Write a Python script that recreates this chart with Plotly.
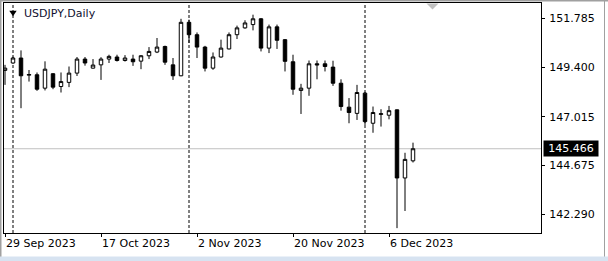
import plotly.graph_objects as go
from datetime import datetime

# ---------------- data ----------------
dates = [
    "2023-09-29",
    "2023-10-02", "2023-10-03", "2023-10-04", "2023-10-05", "2023-10-06",
    "2023-10-09", "2023-10-10", "2023-10-11", "2023-10-12", "2023-10-13",
    "2023-10-16", "2023-10-17", "2023-10-18", "2023-10-19", "2023-10-20",
    "2023-10-23", "2023-10-24", "2023-10-25", "2023-10-26", "2023-10-27",
    "2023-10-30", "2023-10-31",
    "2023-11-01", "2023-11-02", "2023-11-03",
    "2023-11-06", "2023-11-07", "2023-11-08", "2023-11-09", "2023-11-10",
    "2023-11-13", "2023-11-14", "2023-11-15", "2023-11-16", "2023-11-17",
    "2023-11-20", "2023-11-21", "2023-11-22", "2023-11-23", "2023-11-24",
    "2023-11-27", "2023-11-28", "2023-11-29", "2023-11-30",
    "2023-12-01",
    "2023-12-04", "2023-12-05", "2023-12-06", "2023-12-07", "2023-12-08",
    "2023-12-11",
]
opens = [
    149.26,
    149.62, 149.86, 149.03, 149.05, 148.40,
    149.10, 148.48, 148.68, 149.13, 149.81,
    149.37, 149.53, 149.81, 149.91, 149.74,
    149.81, 149.71, 149.97, 150.15, 150.42,
    149.53, 149.00,
    151.59, 150.99, 150.39,
    149.37, 149.91, 150.30, 150.99, 151.32,
    151.48, 151.76, 150.34, 151.37, 150.75,
    149.68, 148.29, 148.40, 149.58, 149.58,
    149.42, 148.64, 147.48, 147.18,
    148.16,
    146.70, 147.13, 147.09, 147.35, 144.05,
    144.88,
]
highs = [
    149.53,
    149.92, 150.23, 149.28, 149.16, 149.70,
    149.13, 149.16, 149.45, 149.91, 149.91,
    149.81, 149.90, 150.02, 150.02, 150.00,
    150.02, 150.00, 150.39, 150.83, 150.46,
    149.86, 151.76,
    151.72, 151.10, 150.45,
    150.13, 150.75, 151.10, 151.43, 151.69,
    151.96, 151.80, 151.48, 151.48, 150.78,
    150.02, 148.61, 149.74, 149.74, 149.74,
    149.73, 148.83, 147.92, 148.56,
    148.22,
    147.51, 147.38, 147.54, 147.37, 145.27,
    145.76,
]
lows = [
    148.56,
    149.58, 147.43, 148.72, 148.27, 148.29,
    148.35, 148.19, 148.45, 148.99, 149.49,
    149.35, 148.80, 149.62, 149.69, 149.69,
    149.48, 149.32, 149.81, 150.10, 149.53,
    148.80, 148.98,
    150.59, 149.86, 149.21,
    149.29, 149.88, 150.28, 150.78, 151.28,
    151.20, 150.18, 150.10, 150.30, 149.21,
    148.08, 147.15, 148.03, 148.83, 149.21,
    148.51, 147.31, 146.70, 146.86,
    146.62,
    146.24, 146.54, 146.89, 141.62, 142.45,
    144.80,
]
closes = [
    149.37,
    149.86, 149.00, 149.06, 148.35, 149.32,
    148.45, 148.72, 149.13, 149.81, 149.62,
    149.52, 149.81, 149.94, 149.74, 149.86,
    149.68, 149.97, 150.18, 150.39, 149.66,
    149.00, 151.59,
    150.99, 150.39, 149.37,
    149.91, 150.34, 150.99, 151.32, 151.56,
    151.76, 150.34, 151.37, 150.72, 149.70,
    148.35, 148.40, 149.58, 149.53, 149.45,
    148.64, 147.51, 147.22, 148.19,
    146.78,
    147.22, 147.16, 147.31, 144.05, 144.95,
    145.466,
]
ytick_vals = [151.785, 149.400, 147.015, 144.675, 142.290]
xtick_idx = [0, 12, 24, 36, 48]
chart_title = "USDJPY,Daily"
last_price = closes[-1]

# ---------------- derived ----------------
x = list(range(len(dates)))
xtick_text = [datetime.strptime(dates[i], "%Y-%m-%d").strftime("%-d %b %Y") for i in xtick_idx]
month_starts = [i for i in range(1, len(dates)) if dates[i][5:7] != dates[i - 1][5:7]]

W, H = 608, 261
ML, MR, MT, MB = 4, 67, 3, 28
PW, PH = W - ML - MR, H - MT - MB


def px(xp):
    return (xp - ML) / PW


def py(yp):
    return (H - MB - yp) / PH


FONT = "DejaVu Sans"

fig = go.Figure()
fig.add_trace(go.Candlestick(
    x=x, open=opens, high=highs, low=lows, close=closes,
    increasing=dict(fillcolor="white", line=dict(color="black", width=1)),
    decreasing=dict(fillcolor="black", line=dict(color="black", width=1)),
    whiskerwidth=0,
    hoverinfo="skip",
    showlegend=False,
))

shapes = []
# period separators
for i in month_starts:
    shapes.append(dict(type="line", xref="x", yref="y domain", x0=i, x1=i, y0=0, y1=1,
                       line=dict(color="black", width=1, dash="3px,2px"), layer="below"))
# last price line
shapes.append(dict(type="line", xref="x domain", yref="y", x0=0, x1=1, y0=last_price, y1=last_price,
                   line=dict(color="#C0C0C0", width=1), layer="below"))
# title triangle
shapes.append(dict(type="path", xref="paper", yref="paper",
                   path=f"M {px(9.3)} {py(10.7)} L {px(16.7)} {py(10.7)} L {px(13)} {py(16.2)} Z",
                   fillcolor="black", line=dict(width=0)))
# chart shift marker
shapes.append(dict(type="path", xref="paper", yref="paper",
                   path=f"M {px(426.5)} {py(3.5)} L {px(438.5)} {py(3.5)} L {px(432.5)} {py(9.5)} Z",
                   fillcolor="#C0C0C0", line=dict(width=0)))
# window frame
shapes.append(dict(type="rect", xref="paper", yref="paper", x0=px(0), x1=px(W), y0=py(0), y1=py(1.5),
                   fillcolor="#A0A0A0", line=dict(width=0)))
shapes.append(dict(type="rect", xref="paper", yref="paper", x0=px(0), x1=px(1.5), y0=py(0), y1=py(H),
                   fillcolor="#A0A0A0", line=dict(width=0)))
shapes.append(dict(type="rect", xref="paper", yref="paper", x0=px(604), x1=px(605), y0=py(0), y1=py(257),
                   fillcolor="#A0A0A0", line=dict(width=0)))
shapes.append(dict(type="rect", xref="paper", yref="paper", x0=px(0), x1=px(W), y0=py(256.5), y1=py(H),
                   fillcolor="#D7E3F1", line=dict(width=0)))

annotations = [
    dict(xref="paper", yref="paper", x=px(22), y=py(14), xanchor="left", yanchor="middle",
         text=chart_title, showarrow=False, font=dict(family=FONT, size=11, color="#101030")),
    dict(xref="paper", yref="y", x=1, y=last_price, xanchor="left", yanchor="middle", xshift=2,
         text=f"{last_price:.3f}", showarrow=False, bgcolor="black", width=52, height=13, borderpad=1,
         align="center", font=dict(family=FONT, size=11, color="white")),
]

fig.update_layout(
    width=W, height=H,
    margin=dict(l=ML, r=MR, t=MT, b=MB),
    paper_bgcolor="white", plot_bgcolor="white",
    font=dict(family=FONT, size=11, color="black"),
    boxgap=0.38,
    shapes=shapes,
    annotations=annotations,
    xaxis=dict(
        range=[-0.125, 67],
        rangeslider=dict(visible=False),
        showgrid=False, zeroline=False,
        showline=True, linecolor="black", linewidth=1, mirror=True,
        tickmode="array", tickvals=xtick_idx, ticktext=xtick_text,
        ticks="outside", ticklen=3, tickcolor="black",
        ticklabelposition="outside right",
    ),
    yaxis=dict(
        side="right",
        range=[141.384, 152.526],
        showgrid=False, zeroline=False,
        showline=True, linecolor="black", linewidth=1, mirror=True,
        tickmode="array", tickvals=ytick_vals, ticktext=[f"{v:.3f}" for v in ytick_vals],
        ticks="outside", ticklen=3, tickcolor="black",
        ticklabelstandoff=2,
    ),
)

fig.write_html("out.html")
